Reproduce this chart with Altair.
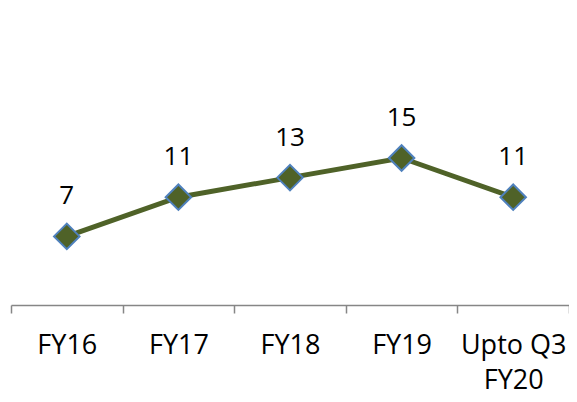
import altair as alt
import pandas as pd

categories = ["FY16", "FY17", "FY18", "FY19", "Upto Q3 FY20"]
values = [7, 11, 13, 15, 11]

df = pd.DataFrame({"period": categories, "value": values})

FONT = "Open Sans"

x = alt.X(
    "period:N",
    sort=categories,
    scale=alt.Scale(type="band", paddingInner=0, paddingOuter=0),
    axis=alt.Axis(
        title=None,
        labelAngle=0,
        tickBand="extent",
        domainColor="#868686",
        domainWidth=1.5,
        tickColor="#868686",
        tickWidth=1.5,
        tickSize=8,
        labelFont=FONT,
        labelFontSize=27,
        labelColor="#000000",
        labelPadding=19,
        labelLineHeight=35,
        labelExpr="datum.label == 'Upto Q3 FY20' ? ['Upto Q3', 'FY20'] : datum.label",
    ),
)
y = alt.Y("value:Q", scale=alt.Scale(domain=[0, 30], nice=False, zero=True), axis=None)

base = alt.Chart(df).encode(x=x, y=y)

line = base.mark_line(color="#4F6228", strokeWidth=5)
pts = base.mark_point(
    shape="diamond", size=650, filled=True, fill="#4F6228",
    stroke="#4F81BD", strokeWidth=2, opacity=1,
)
labels = base.mark_text(dy=-40, fontSize=26, font=FONT, color="#000000").encode(
    text="value:Q"
)

chart = (
    alt.layer(line, pts, labels)
    .properties(
        width=558,
        height=294,
        autosize=alt.AutoSizeParams(type="none"),
        padding={"left": 3, "top": 3, "right": 0, "bottom": 92},
    )
    .configure(background="white", view=alt.ViewConfig(stroke=None))
)

chart.save("out.html", embed_options={"renderer": "svg", "actions": False})
